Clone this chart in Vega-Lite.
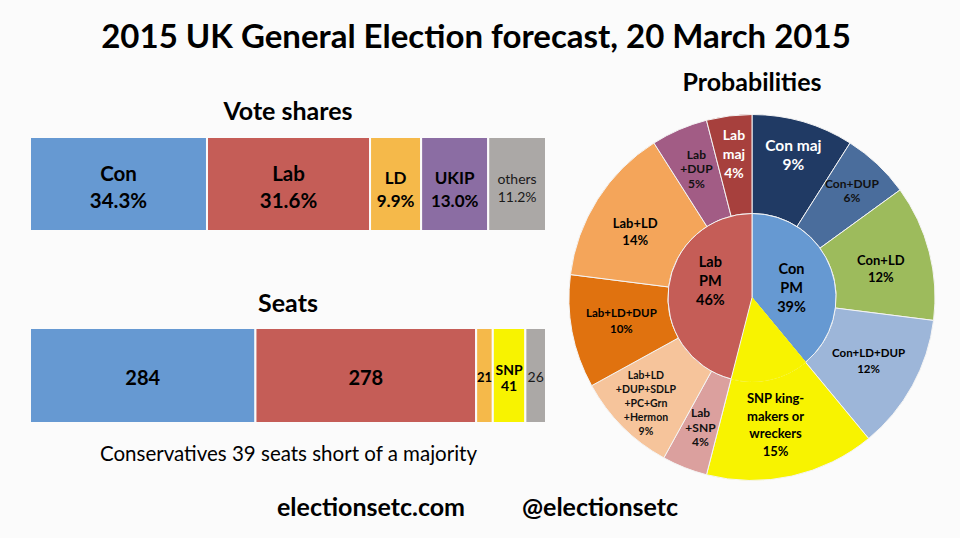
{
  "$schema": "https://vega.github.io/schema/vega-lite/v6.json",
  "background": "#fbfbfb",
  "padding": {"left": 29, "top": 22, "right": 20, "bottom": 22},
  "title": {
    "text": "2015 UK General Election forecast, 20 March 2015",
    "fontSize": 33, "font": "Lato", "fontWeight": "bold", "color": "#000000",
    "anchor": "middle", "offset": 16, "dx": -9
  },
  "config": {
    "view": {"stroke": null},
    "font": "Lato",
    "title": {"font": "Lato", "fontWeight": "bold", "color": "#000000", "anchor": "middle"}
  },
  "spacing": 13,
  "vconcat": [
    {
      "hconcat": [
        {
          "vconcat": [
            {
              "width": 516,
              "height": 94,
              "title": {"text": "Vote shares", "fontSize": 25, "offset": 11},
              "data": {"values": [
                {"party": "Con", "label": "Con\n34.3%", "share": 34.3, "ord": 1},
                {"party": "Lab", "label": "Lab\n31.6%", "share": 31.6, "ord": 2},
                {"party": "LD", "label": "LD\n9.9%", "share": 9.9, "ord": 3},
                {"party": "UKIP", "label": "UKIP\n13.0%", "share": 13.0, "ord": 4},
                {"party": "others", "label": "others\n11.2%", "share": 11.2, "ord": 5}
              ]},
              "transform": [
                {"stack": "share", "groupby": [], "sort": [{"field": "ord"}], "as": ["x0", "x1"]},
                {"calculate": "(datum.x0 + datum.x1) / 2", "as": "xm"}
              ],
              "encoding": {
                "y": {"datum": "votes", "type": "nominal", "axis": null, "scale": {"paddingInner": 0, "paddingOuter": 0}}
              },
              "layer": [
                {
                  "mark": {"type": "bar", "stroke": "#fbfbfb", "strokeWidth": 2},
                  "encoding": {
                    "x": {"field": "x0", "type": "quantitative", "scale": {"domain": [0, 100], "nice": false}, "axis": null},
                    "x2": {"field": "x1"},
                    "color": {"field": "party", "type": "nominal", "legend": null,
                      "scale": {
                        "domain": ["Con", "Lab", "LD", "UKIP", "others", "SNP", "Con maj", "Con+DUP", "Con+LD", "Con+LD+DUP", "Lab+SNP", "Lab+LD+DUP+SDLP+PC+Grn+Hermon", "Lab+LD+DUP", "Lab+LD", "Lab+DUP", "Lab maj"],
                        "range": ["#6699d2", "#c55d57", "#f5b94a", "#8b6da3", "#aba8a6", "#f8f300", "#203a64", "#4a6d9c", "#9dbb5c", "#9db6d9", "#dba09e", "#f6c49b", "#e0720f", "#f4a55a", "#a25c85", "#a7403d"]
                      }}
                  }
                },
                {
                  "transform": [{"filter": "datum.party === 'Con' || datum.party === 'Lab'"}],
                  "mark": {"type": "text", "fontSize": 20.5, "fontWeight": "bold", "lineBreak": "\n", "lineHeight": 27, "baseline": "middle", "dy": -9.5, "color": "#000000"},
                  "encoding": {
                    "x": {"field": "xm", "type": "quantitative"},
                    "text": {"field": "label"}
                  }
                },
                {
                  "transform": [{"filter": "datum.party === 'LD' || datum.party === 'UKIP'"}],
                  "mark": {"type": "text", "fontSize": 17, "fontWeight": "bold", "lineBreak": "\n", "lineHeight": 23, "baseline": "middle", "dy": -5.5, "color": "#000000"},
                  "encoding": {
                    "x": {"field": "xm", "type": "quantitative"},
                    "text": {"field": "label"}
                  }
                },
                {
                  "transform": [{"filter": "datum.party === 'others'"}],
                  "mark": {"type": "text", "fontSize": 14, "lineBreak": "\n", "lineHeight": 18, "baseline": "middle", "dy": -4, "color": "#1a1a1a"},
                  "encoding": {
                    "x": {"field": "xm", "type": "quantitative"},
                    "text": {"field": "label"}
                  }
                }
              ]
            },
            {
              "width": 516,
              "height": 95,
              "title": {"text": "Seats", "fontSize": 25, "offset": 10},
              "data": {"values": [
                {"party": "Con", "label": "284", "seats": 284, "ord": 1},
                {"party": "Lab", "label": "278", "seats": 278, "ord": 2},
                {"party": "LD", "label": "21", "seats": 21, "ord": 3},
                {"party": "SNP", "label": "SNP\n41", "seats": 41, "ord": 4},
                {"party": "others", "label": "26", "seats": 26, "ord": 5}
              ]},
              "transform": [
                {"stack": "seats", "groupby": [], "sort": [{"field": "ord"}], "as": ["x0", "x1"]},
                {"calculate": "(datum.x0 + datum.x1) / 2", "as": "xm"}
              ],
              "encoding": {
                "y": {"datum": "seats", "type": "nominal", "axis": null, "scale": {"paddingInner": 0, "paddingOuter": 0}}
              },
              "layer": [
                {
                  "mark": {"type": "bar", "stroke": "#fbfbfb", "strokeWidth": 2},
                  "encoding": {
                    "x": {"field": "x0", "type": "quantitative", "scale": {"domain": [0, 650], "nice": false},
                      "axis": {"labels": false, "ticks": false, "domain": false, "grid": false,
                        "title": "Conservatives 39 seats short of a majority",
                        "titleFontSize": 20.5, "titleFontWeight": "normal", "titleFont": "Lato",
                        "titleColor": "#000000", "titlePadding": 21}},
                    "x2": {"field": "x1"},
                    "color": {"field": "party", "type": "nominal", "legend": null,
                      "scale": {
                        "domain": ["Con", "Lab", "LD", "UKIP", "others", "SNP", "Con maj", "Con+DUP", "Con+LD", "Con+LD+DUP", "Lab+SNP", "Lab+LD+DUP+SDLP+PC+Grn+Hermon", "Lab+LD+DUP", "Lab+LD", "Lab+DUP", "Lab maj"],
                        "range": ["#6699d2", "#c55d57", "#f5b94a", "#8b6da3", "#aba8a6", "#f8f300", "#203a64", "#4a6d9c", "#9dbb5c", "#9db6d9", "#dba09e", "#f6c49b", "#e0720f", "#f4a55a", "#a25c85", "#a7403d"]
                      }}
                  }
                },
                {
                  "transform": [{"filter": "datum.party === 'Con' || datum.party === 'Lab'"}],
                  "mark": {"type": "text", "fontSize": 20, "fontWeight": "bold", "baseline": "middle", "dy": 3.5, "color": "#000000"},
                  "encoding": {
                    "x": {"field": "xm", "type": "quantitative"},
                    "text": {"field": "label"}
                  }
                },
                {
                  "transform": [{"filter": "datum.party === 'LD'"}],
                  "mark": {"type": "text", "fontSize": 13, "fontWeight": "bold", "baseline": "middle", "dy": 2.5, "color": "#000000"},
                  "encoding": {
                    "x": {"field": "xm", "type": "quantitative"},
                    "text": {"field": "label"}
                  }
                },
                {
                  "transform": [{"filter": "datum.party === 'SNP'"}],
                  "mark": {"type": "text", "fontSize": 14, "fontWeight": "bold", "lineBreak": "\n", "lineHeight": 16.5, "baseline": "middle", "dy": -5, "color": "#000000"},
                  "encoding": {
                    "x": {"field": "xm", "type": "quantitative"},
                    "text": {"field": "label"}
                  }
                },
                {
                  "transform": [{"filter": "datum.party === 'others'"}],
                  "mark": {"type": "text", "fontSize": 14, "baseline": "middle", "dy": 2.5, "color": "#1a1a1a"},
                  "encoding": {
                    "x": {"field": "xm", "type": "quantitative"},
                    "text": {"field": "label"}
                  }
                }
              ]
            }
          ],
          "spacing": 60
        },
        {
          "width": 370,
          "height": 321,
          "title": {"text": "Probabilities", "fontSize": 25, "offset": 16.5},
          "layer": [
            {
              "data": {"name": "outer"},
              "mark": {"type": "arc", "radius": 183, "radius2": 84, "stroke": "#f4f4f4", "strokeWidth": 1},
              "encoding": {
                "theta": {"field": "pct", "type": "quantitative", "stack": true, "scale": {"domain": [0, 100]}},
                "order": {"field": "ord"},
                "color": {"field": "seg", "type": "nominal", "legend": null,
                  "scale": {
                    "domain": ["Con", "Lab", "LD", "UKIP", "others", "SNP", "Con maj", "Con+DUP", "Con+LD", "Con+LD+DUP", "Lab+SNP", "Lab+LD+DUP+SDLP+PC+Grn+Hermon", "Lab+LD+DUP", "Lab+LD", "Lab+DUP", "Lab maj"],
                    "range": ["#6699d2", "#c55d57", "#f5b94a", "#8b6da3", "#aba8a6", "#f8f300", "#203a64", "#4a6d9c", "#9dbb5c", "#9db6d9", "#dba09e", "#f6c49b", "#e0720f", "#f4a55a", "#a25c85", "#a7403d"]
                  }}
              }
            },
            {
              "data": {"name": "inner"},
              "mark": {"type": "arc", "radius": 84, "strokeWidth": 1},
              "encoding": {
                "theta": {"field": "pct", "type": "quantitative", "stack": true},
                "order": {"field": "ord"},
                "color": {"field": "seg", "type": "nominal", "legend": null},
                "stroke": {"condition": {"test": "datum.seg === 'SNP'", "value": "#f8f300"}, "value": "#f4f4f4"}
              }
            },
            {
              "data": {"name": "outer"},
              "mark": {"type": "text", "radius": 148, "dy": -9.5, "fontSize": 15.5, "fontWeight": "bold", "lineBreak": "\n", "lineHeight": 19, "baseline": "middle", "color": "#ffffff"},
              "encoding": {
                "theta": {"field": "pct", "type": "quantitative", "stack": true},
                "order": {"field": "ord"},
                "detail": {"field": "seg"},
                "text": {"condition": {"test": "datum.seg === 'Con maj'", "field": "label"}, "value": ""}
              }
            },
            {
              "data": {"name": "outer"},
              "mark": {"type": "text", "radius": 144, "dy": -19, "fontSize": 14, "fontWeight": "bold", "lineBreak": "\n", "lineHeight": 19, "baseline": "middle", "color": "#ffffff"},
              "encoding": {
                "theta": {"field": "pct", "type": "quantitative", "stack": true},
                "order": {"field": "ord"},
                "detail": {"field": "seg"},
                "text": {"condition": {"test": "datum.seg === 'Lab maj'", "field": "label"}, "value": ""}
              }
            },
            {
              "data": {"name": "outer"},
              "mark": {"type": "text", "radius": 146, "dy": -7, "fontSize": 12, "fontWeight": "bold", "lineBreak": "\n", "lineHeight": 14, "baseline": "middle", "color": "#111111"},
              "encoding": {
                "theta": {"field": "pct", "type": "quantitative", "stack": true},
                "order": {"field": "ord"},
                "detail": {"field": "seg"},
                "text": {"condition": {"test": "datum.seg === 'Con+DUP'", "field": "label"}, "value": ""}
              }
            },
            {
              "data": {"name": "outer"},
              "mark": {"type": "text", "radius": 140, "dy": -14.5, "fontSize": 12, "fontWeight": "bold", "lineBreak": "\n", "lineHeight": 14.5, "baseline": "middle", "color": "#111111"},
              "encoding": {
                "theta": {"field": "pct", "type": "quantitative", "stack": true},
                "order": {"field": "ord"},
                "detail": {"field": "seg"},
                "text": {"condition": {"test": "datum.seg === 'Lab+DUP' || datum.seg === 'Lab+SNP'", "field": "label"}, "value": ""}
              }
            },
            {
              "data": {"name": "outer"},
              "mark": {"type": "text", "radius": 150, "dy": -28, "fontSize": 10.5, "fontWeight": "bold", "lineBreak": "\n", "lineHeight": 14, "baseline": "middle", "color": "#111111"},
              "encoding": {
                "theta": {"field": "pct", "type": "quantitative", "stack": true},
                "order": {"field": "ord"},
                "detail": {"field": "seg"},
                "text": {"condition": {"test": "datum.seg === 'Lab+LD+DUP+SDLP+PC+Grn+Hermon'", "field": "label"}, "value": ""}
              }
            },
            {
              "data": {"name": "outer"},
              "mark": {"type": "text", "radius": 133, "dy": -8, "fontSize": 11.5, "fontWeight": "bold", "lineBreak": "\n", "lineHeight": 16, "baseline": "middle", "color": "#000000"},
              "encoding": {
                "theta": {"field": "pct", "type": "quantitative", "stack": true},
                "order": {"field": "ord"},
                "detail": {"field": "seg"},
                "text": {"condition": {"test": "datum.seg === 'Con+LD+DUP' || datum.seg === 'Lab+LD+DUP'", "field": "label"}, "value": ""}
              }
            },
            {
              "data": {"name": "outer"},
              "mark": {"type": "text", "radius": 133, "dy": -3, "fontSize": 13, "fontWeight": "bold", "lineBreak": "\n", "lineHeight": 17, "baseline": "middle", "color": "#000000"},
              "encoding": {
                "theta": {"field": "pct", "type": "quantitative", "stack": true},
                "order": {"field": "ord"},
                "detail": {"field": "seg"},
                "text": {"condition": {"test": "datum.seg === 'Con+LD'", "field": "label"}, "value": ""}
              }
            },
            {
              "data": {"name": "outer"},
              "mark": {"type": "text", "radius": 133, "dx": -4.5, "dy": -2, "fontSize": 13, "fontWeight": "bold", "lineBreak": "\n", "lineHeight": 17, "baseline": "middle", "color": "#000000"},
              "encoding": {
                "theta": {"field": "pct", "type": "quantitative", "stack": true},
                "order": {"field": "ord"},
                "detail": {"field": "seg"},
                "text": {"condition": {"test": "datum.seg === 'Lab+LD'", "field": "label"}, "value": ""}
              }
            },
            {
              "data": {"name": "outer"},
              "mark": {"type": "text", "radius": 131, "dx": -5, "dy": -26, "fontSize": 13, "fontWeight": "bold", "lineBreak": "\n", "lineHeight": 17.5, "baseline": "middle", "color": "#000000"},
              "encoding": {
                "theta": {"field": "pct", "type": "quantitative", "stack": true},
                "order": {"field": "ord"},
                "detail": {"field": "seg"},
                "text": {"condition": {"test": "datum.seg === 'SNP'", "field": "label"}, "value": ""}
              }
            },
            {
              "data": {"name": "inner"},
              "mark": {"type": "text", "radius": 42, "dy": -13, "fontSize": 14.5, "fontWeight": "bold", "lineBreak": "\n", "lineHeight": 19, "baseline": "middle", "color": "#000000"},
              "encoding": {
                "theta": {"field": "pct", "type": "quantitative", "stack": true},
                "order": {"field": "ord"},
                "detail": {"field": "seg"},
                "text": {"condition": {"test": "datum.seg === 'Con'", "field": "label"}, "value": ""}
              }
            },
            {
              "data": {"name": "inner"},
              "mark": {"type": "text", "radius": 42, "dy": -29, "fontSize": 14.5, "fontWeight": "bold", "lineBreak": "\n", "lineHeight": 19, "baseline": "middle", "color": "#000000"},
              "encoding": {
                "theta": {"field": "pct", "type": "quantitative", "stack": true},
                "order": {"field": "ord"},
                "detail": {"field": "seg"},
                "text": {"condition": {"test": "datum.seg === 'Lab'", "field": "label"}, "value": ""}
              }
            }
          ]
        }
      ],
      "spacing": 19
    },
    {
      "width": 911,
      "height": 24,
      "data": {"values": [
        {"site": "electionsetc.com"},
        {"site": "@electionsetc"}
      ]},
      "mark": {"type": "text", "fontSize": 25, "fontWeight": "bold", "baseline": "middle", "color": "#000000"},
      "encoding": {
        "x": {"field": "site", "type": "nominal", "axis": null,
          "scale": {"type": "band", "domain": ["electionsetc.com", "@electionsetc"], "paddingOuter": 1, "paddingInner": 0.022}},
        "text": {"field": "site"}
      }
    }
  ],
  "datasets": {
    "outer": [
      {"ord": 1, "seg": "Con maj", "pct": 9, "label": "Con maj\n9%"},
      {"ord": 2, "seg": "Con+DUP", "pct": 6, "label": "Con+DUP\n6%"},
      {"ord": 3, "seg": "Con+LD", "pct": 12, "label": "Con+LD\n12%"},
      {"ord": 4, "seg": "Con+LD+DUP", "pct": 12, "label": "Con+LD+DUP\n12%"},
      {"ord": 5, "seg": "SNP", "pct": 15, "label": "SNP king-\nmakers or\nwreckers\n15%"},
      {"ord": 6, "seg": "Lab+SNP", "pct": 4, "label": "Lab\n+SNP\n4%"},
      {"ord": 7, "seg": "Lab+LD+DUP+SDLP+PC+Grn+Hermon", "pct": 9, "label": "Lab+LD\n+DUP+SDLP\n+PC+Grn\n+Hermon\n9%"},
      {"ord": 8, "seg": "Lab+LD+DUP", "pct": 10, "label": "Lab+LD+DUP\n10%"},
      {"ord": 9, "seg": "Lab+LD", "pct": 14, "label": "Lab+LD\n14%"},
      {"ord": 10, "seg": "Lab+DUP", "pct": 5, "label": "Lab\n+DUP\n5%"},
      {"ord": 11, "seg": "Lab maj", "pct": 4, "label": "Lab\nmaj\n4%"}
    ],
    "inner": [
      {"ord": 1, "seg": "Con", "pct": 39, "label": "Con\nPM\n39%"},
      {"ord": 2, "seg": "SNP", "pct": 15, "label": ""},
      {"ord": 3, "seg": "Lab", "pct": 46, "label": "Lab\nPM\n46%"}
    ]
  }
}
